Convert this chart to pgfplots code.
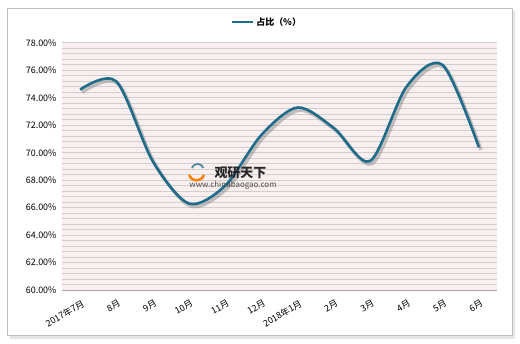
\documentclass[border=0pt]{standalone}
\usepackage{fontspec}
\setmainfont{Noto Sans CJK SC}
\usepackage{pgfplots}
\pgfplotsset{compat=1.18}
\definecolor{linec}{HTML}{1F6B8A}
\definecolor{gridc}{HTML}{D6CDCD}
\definecolor{bgc}{HTML}{F8F0F0}
\begin{document}
\begin{tikzpicture}
\begin{scope}[x=1bp,y=1bp]
\path[use as bounding box] (0,0) rectangle (520,343);
\fill[white] (0,0) rectangle (520,343);
\fill[black!10] (10,4) rectangle (515,332);
\filldraw[fill=white, draw=black!25] (7,8) rectangle (512,335);
\end{scope}
\begin{axis}[
  at={(62bp,53bp)}, anchor=south west,
  scale only axis, width=435bp, height=247bp,
  xmin=-0.5, xmax=11.5, ymin=60, ymax=78,
  xtick={0,...,11},
  xticklabels={2017年7月,8月,9月,10月,11月,12月,2018年1月,2月,3月,4月,5月,6月},
  ytick={60,62,...,78},
  minor y tick num=4,
  ymajorgrids, yminorgrids,
  major grid style={gridc, line width=1bp},
  minor grid style={gridc, line width=1bp},
  axis background/.style={fill=bgc},
  axis line style={draw=none},
  tick style={draw=none},
  /pgf/number format/assume math mode=true,
  yticklabel={\pgfmathprintnumber[fixed,fixed zerofill,precision=2]{\tick}\%},
  yticklabel style={font=\fontsize{9}{10}\selectfont, xshift=-2bp},
  xticklabel style={rotate=30, anchor=north east, font=\fontsize{9}{10}\selectfont, yshift=-5bp},
  legend style={at={(0.471,1.085)}, anchor=center, draw=none, fill=none, font=\fontsize{9}{10}\selectfont\bfseries},
  legend image code/.code={\draw[#1, line width=2.6bp] (0,0) -- (21bp,0);},
  clip=false,
]
\addplot[black!50, opacity=0.45, line width=3.5bp, smooth, xshift=2bp, yshift=-2.5bp, forget plot]
  coordinates {(0,74.6) (1,75.2) (2,69.4) (3,66.3) (4,67.6) (5,71.3) (6,73.3) (7,71.8) (8,69.4) (9,74.8) (10,76.4) (11,70.4)};
\addplot[linec, line width=2.6bp, smooth]
  coordinates {(0,74.6) (1,75.2) (2,69.4) (3,66.3) (4,67.6) (5,71.3) (6,73.3) (7,71.8) (8,69.4) (9,74.8) (10,76.4) (11,70.4)};
\addlegendentry{占比（\%）}
\end{axis}
\begin{scope}[x=1bp,y=1bp]
\draw[black!35, line width=1bp] (62,53) -- (497,53);
% watermark
\draw[orange, line width=2.5bp] (189,168) arc (200:340:8);
\draw[linec!80, line width=1.8bp] (192,175) arc (160:20:6);
\node[anchor=west, font=\fontsize{13}{14}\selectfont\bfseries, text=black!85] at (211,170) {观研天下};
\node[font=\fontsize{8}{9}\selectfont, text=black!70] at (233,158) {www.chinabaogao.com};
\end{scope}
\end{tikzpicture}
\end{document}
